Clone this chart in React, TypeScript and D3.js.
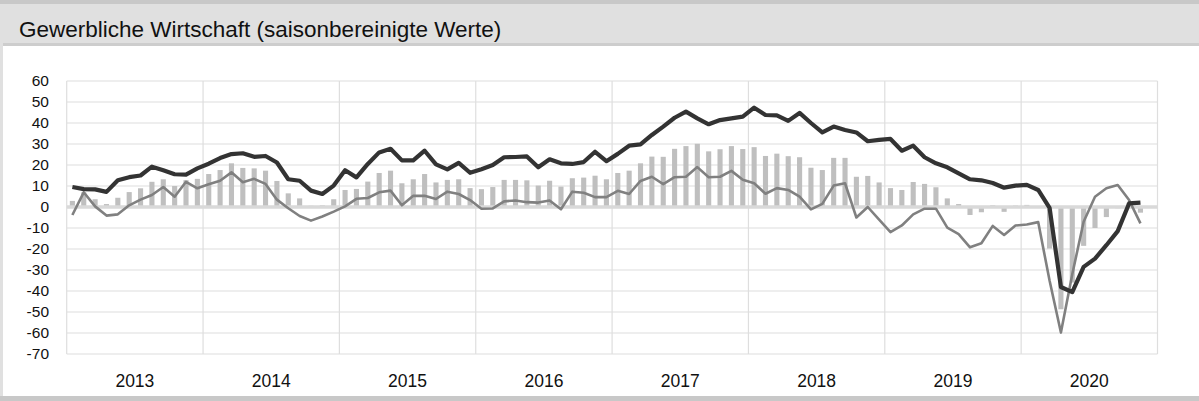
import React from 'react';
import * as d3 from 'd3';

// Monatswerte Jan 2013 – Nov 2020
const years = ['2013', '2014', '2015', '2016', '2017', '2018', '2019', '2020'];

// dunkle Linie
const darkLine = [
  9.5, 8.5, 8.4, 7.2, 12.7, 14.2, 15, 19.2, 17.5, 15.6, 15.4, 18.4,
  20.6, 23.3, 25.2, 25.6, 23.9, 24.3, 21.2, 13.2, 12.5, 7.8, 6.2, 10.2,
  17.5, 14.1, 20.5, 26, 27.7, 22.2, 22.2, 26.8, 20.3, 17.9, 21, 16.3,
  18, 20, 23.7, 23.8, 24.1, 18.9, 22.7, 20.8, 20.5, 21.4, 26.3, 21.8,
  25.3, 29.2, 29.8, 34.3, 38.3, 42.5, 45.4, 42.2, 39.4, 41.4, 42.2, 43,
  47.3, 43.8, 43.6, 41, 44.8, 40, 35.5, 38.3, 36.7, 35.5, 31.3, 32,
  32.4, 26.8, 29.2, 23.7, 20.8, 18.9, 16, 13.2, 12.7, 11.4, 9.2, 10.2,
  10.5, 8.1, -0.4, -38.1, -40.5, -28.5, -24.6, -18.2, -11.5, 1.7, 2.1,
];

// graue Linie
const grayLine = [
  -3.8, 7, 0.3, -4.1, -3.5, 0.8, 3.5, 5.7, 9.5, 4.9, 12, 8.9,
  10.8, 12.5, 16.5, 11.8, 13.4, 11, 3.5, -0.6, -4.3, -6.5, -4.5, -2.2,
  0.3, 3.9, 4.3, 7, 7.8, 0.8, 5.3, 5.3, 3.8, 7.3, 6.2, 3.3,
  -0.8, -0.7, 2.7, 3.1, 2.3, 2.1, 3.1, -1.1, 7.3, 6.8, 4.7, 4.7,
  7.7, 6.2, 12.4, 14.4, 10.9, 14.2, 14.4, 19, 14.2, 14.4, 17.2, 13,
  11.3, 6.3, 9, 8.1, 4.9, -1.1, 1.5, 10.2, 11.3, -5, 0, -6,
  -12, -8.8, -3.5, -0.8, -0.8, -9.8, -12.9, -19.2, -17.3, -9, -13.3, -8.8,
  -8.3, -7.2, -35, -59.8, -32, -7, 4.9, 8.9, 10.5, 3.3, -7.8,
];

// Balken
const bars = [
  2.9, 7, 3.7, 1.4, 4.4, 7.1, 8.9, 12, 13.2, 10, 12.8, 13.4,
  15.7, 17.6, 20.8, 18.6, 18.4, 17.3, 12.4, 6.5, 4.1, 0.6, 0.8, 3.7,
  8.1, 8.6, 12.1, 16.2, 17.3, 11.3, 13.2, 15.7, 11.7, 12.9, 13.2, 9,
  8.5, 9.5, 12.9, 12.9, 12.7, 10.2, 12.5, 9.7, 13.7, 14, 14.9, 13.2,
  16.2, 17.3, 20.8, 24, 23.9, 27.7, 29, 30.1, 26.5, 27.5, 29, 27.6,
  28.5, 24.3, 25.4, 24.2, 23.7, 18.7, 17.6, 23.4, 23.4, 14.4, 14.8, 11.7,
  9, 8.1, 11.9, 11, 9.4, 4.1, 1.4, -3.8, -2.5, 0.8, -2.3, 0.7,
  1, 0.4, -19.8, -48.7, -36, -18.5, -10, -4.8, -0.6, 2, -2.7,
];

const yTicks = [60, 50, 40, 30, 20, 10, 0, -10, -20, -30, -40, -50, -60, -70];

const W = 1199;
const H = 401;
const left = 66.7;
const right = 1157.5;
const top = 81;
const bottom = 354;
const font = 'Liberation Sans, Arial, sans-serif';

const App = () => {
  const months = d3.range(years.length * 12);
  const x = d3.scaleBand<number>().domain(months).range([left, right]).paddingInner(0.55).paddingOuter(0.275);
  const cx = (i: number) => (x(i) as number) + x.bandwidth() / 2;
  const y = d3.scaleLinear().domain([-70, 60]).range([bottom, top]);
  const yearStep = (right - left) / years.length;

  const line = d3.line<number>().x((_, i) => cx(i)).y(d => y(d));

  return (
    <svg width={W} height={H} style={{ position: 'absolute', left: 0, top: 0, display: 'block' }}>
      <rect x={0} y={0} width={W} height={H} fill="#fff" />
      {/* Titelleiste */}
      <rect x={0} y={0} width={W} height={4} fill="#c8c8c8" />
      <rect x={0} y={4} width={W} height={40} fill="#e0e0e0" />
      <rect x={0} y={43} width={W} height={3} fill="#cdcdcd" />
      <rect x={0} y={4} width={3} height={H} fill="#e0e0e0" />
      <rect x={0} y={396} width={W} height={5} fill="#c8c8c8" />
      <text x={19} y={37} fontFamily={font} fontSize={22.5} fill="#111">
        Gewerbliche Wirtschaft (saisonbereinigte Werte)
      </text>

      {/* Gitter */}
      {yTicks.map(t => (
        <line key={'h' + t} x1={left} x2={right} y1={y(t)} y2={y(t)} stroke="#dedede" strokeWidth={1.2} />
      ))}
      {d3.range(years.length + 1).map(k => (
        <line key={'v' + k} x1={left + k * yearStep} x2={left + k * yearStep} y1={top} y2={bottom} stroke="#dedede" strokeWidth={1.2} />
      ))}

      {/* Balken */}
      {bars.map((v, i) => (
        <rect
          key={'b' + i}
          x={x(i)}
          width={x.bandwidth()}
          y={Math.min(y(v), y(0))}
          height={Math.abs(y(v) - y(0))}
          fill="#bfbfbf"
        />
      ))}
      <line x1={left} x2={right} y1={y(0)} y2={y(0)} stroke="#d9d9d9" strokeWidth={3.5} />

      <path d={line(grayLine) || ''} fill="none" stroke="#808080" strokeWidth={2.6} strokeLinejoin="round" />
      <path d={line(darkLine) || ''} fill="none" stroke="#333333" strokeWidth={4.2} strokeLinejoin="round" />

      {/* Achsenbeschriftung */}
      {yTicks.map(t => (
        <text key={'yl' + t} x={49} y={y(t)} dy="0.35em" textAnchor="end" fontFamily={font} fontSize={15.5} fill="#111">
          {t}
        </text>
      ))}
      {years.map((yr, k) => (
        <text key={yr} x={left + (k + 0.5) * yearStep} y={387} textAnchor="middle" fontFamily={font} fontSize={17.5} fill="#111">
          {yr}
        </text>
      ))}
    </svg>
  );
};

export default App;
